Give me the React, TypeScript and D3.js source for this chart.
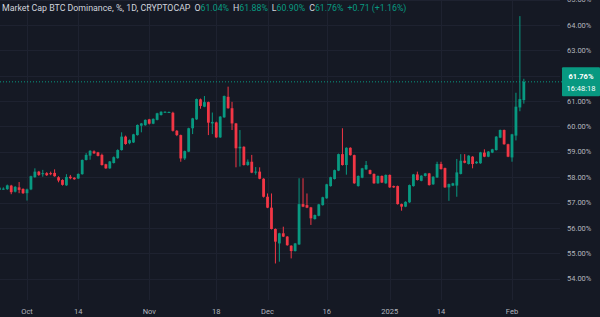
import React from "react";
import * as d3 from "d3";

// ---- data ----
const firstDay = "2024-09-24";
const opens = [
  57.50, 57.53, 57.53, 57.67, 57.43, 57.60, 57.54,
  57.37, 57.52, 58.00, 58.22, 58.12, 58.16, 58.16, 58.17, 58.00, 57.89,
  57.68, 58.02, 57.98, 57.95, 58.12, 58.68, 58.85, 59.02, 58.98, 58.88,
  58.51, 58.35, 58.56, 58.75, 59.07, 59.60, 59.34, 59.37, 59.66, 60.03,
  60.05, 60.28, 60.11, 60.26, 60.45, 60.56, 60.55, 60.54, 59.83, 59.66,
  58.74, 59.01, 59.93, 60.28, 61.07, 60.78, 60.96, 60.12, 60.16, 59.57,
  60.36, 61.17, 60.72, 60.12, 59.14, 59.20, 58.48, 58.61, 58.19, 58.22,
  57.94, 57.23, 56.80, 55.96, 55.39, 55.79, 55.66, 55.30, 55.09, 55.35,
  56.94, 56.90, 56.81, 56.35, 56.48, 56.90, 57.17, 57.65, 57.93, 58.26,
  58.91, 58.48, 59.16, 58.87, 57.65, 57.98, 58.31, 58.28, 58.13, 57.76,
  58.05, 57.76, 58.09, 57.65, 57.65, 56.94, 56.84, 57.01, 57.65, 58.11,
  57.86, 58.05, 58.15, 57.72, 57.99, 58.52, 58.36, 57.60, 57.67, 57.67,
  58.13, 58.65, 58.52, 58.81, 58.55, 58.55, 58.97, 58.81, 58.97, 59.07,
  59.56, 59.86, 59.30, 58.78, 59.64, 60.75, 61.04,
];
const highs = [
  57.62, 57.60, 57.71, 57.70, 57.65, 57.81, 57.56,
  57.55, 58.06, 58.35, 58.25, 58.29, 58.20, 58.22, 58.31, 58.04, 57.92,
  58.12, 58.09, 58.00, 58.15, 58.70, 58.95, 59.07, 59.06, 59.00, 58.93,
  58.53, 58.64, 58.82, 59.10, 59.77, 59.64, 59.49, 59.71, 60.08, 60.14,
  60.28, 60.30, 60.32, 60.54, 60.60, 60.60, 60.59, 60.58, 59.86, 59.68,
  59.05, 59.95, 60.34, 61.10, 61.10, 61.20, 60.98, 60.55, 60.19, 60.41,
  61.22, 61.57, 60.97, 60.14, 59.86, 59.22, 58.70, 58.88, 58.40, 58.39,
  57.96, 57.36, 57.36, 55.98, 55.81, 56.05, 55.68, 55.32, 55.41, 57.96,
  57.96, 57.36, 56.83, 56.53, 56.95, 57.23, 57.74, 58.02, 58.30, 58.93,
  59.93, 59.18, 59.18, 58.89, 58.07, 58.37, 58.64, 58.30, 58.15, 58.07,
  58.07, 58.11, 58.11, 57.67, 57.67, 56.96, 57.05, 57.71, 58.13, 58.22,
  58.08, 58.17, 58.17, 58.04, 58.61, 58.61, 58.38, 57.75, 57.78, 58.72,
  58.91, 58.91, 58.87, 58.83, 58.63, 59.00, 59.10, 59.03, 59.12, 59.62,
  59.88, 59.88, 59.32, 59.71, 61.33, 64.35, 61.88,
];
const lows = [
  57.46, 57.50, 57.50, 57.33, 57.40, 57.37, 57.34,
  57.08, 57.49, 57.98, 58.05, 58.02, 58.05, 58.08, 58.02, 57.80, 57.67,
  57.66, 57.92, 57.90, 57.93, 58.10, 58.66, 58.69, 58.92, 58.82, 58.46,
  58.33, 58.33, 58.54, 58.73, 59.05, 59.28, 59.30, 59.35, 59.64, 59.77,
  60.03, 60.08, 60.09, 60.24, 60.43, 60.54, 60.53, 59.80, 59.62, 58.61,
  58.68, 58.99, 59.70, 60.26, 60.70, 60.76, 59.66, 59.70, 59.55, 59.55,
  60.34, 60.70, 59.86, 58.39, 58.42, 58.46, 58.45, 58.16, 58.10, 57.92,
  57.20, 56.78, 55.94, 54.60, 54.67, 55.64, 55.30, 54.80, 55.07, 55.33,
  56.82, 56.78, 56.12, 56.33, 56.46, 56.88, 57.15, 57.63, 57.91, 58.24,
  58.46, 58.10, 58.85, 57.74, 57.63, 57.96, 58.29, 58.11, 57.74, 57.74,
  57.77, 57.74, 57.58, 57.58, 56.92, 56.68, 56.82, 56.99, 57.63, 57.87,
  57.84, 58.03, 57.67, 57.70, 57.97, 58.30, 57.58, 57.07, 57.65, 57.23,
  58.11, 58.55, 58.50, 58.35, 58.53, 58.53, 58.79, 58.79, 58.95, 59.05,
  59.54, 59.28, 58.79, 58.61, 59.45, 60.60, 60.90,
];
const closes = [
  57.59, 57.55, 57.68, 57.41, 57.62, 57.50, 57.37,
  57.52, 58.04, 58.22, 58.09, 58.16, 58.08, 58.12, 58.04, 57.87, 57.70,
  58.01, 57.96, 57.92, 58.13, 58.68, 58.88, 59.04, 58.94, 58.84, 58.48,
  58.35, 58.62, 58.79, 59.07, 59.60, 59.31, 59.46, 59.69, 60.06, 60.12,
  60.26, 60.11, 60.30, 60.52, 60.58, 60.58, 60.57, 59.83, 59.66, 58.74,
  59.03, 59.93, 60.32, 61.08, 60.81, 60.96, 60.15, 60.18, 59.57, 60.39,
  61.20, 60.72, 60.12, 59.14, 59.20, 58.48, 58.61, 58.18, 58.22, 57.94,
  57.23, 56.80, 55.96, 55.46, 55.79, 55.66, 55.32, 55.09, 55.39, 56.94,
  56.84, 56.80, 56.38, 56.51, 56.93, 57.21, 57.72, 58.00, 58.28, 58.91,
  58.48, 59.16, 58.87, 57.76, 58.05, 58.35, 58.48, 58.13, 57.76, 58.05,
  57.79, 58.09, 57.60, 57.60, 56.94, 56.84, 57.03, 57.69, 58.11, 57.89,
  58.06, 58.15, 57.69, 58.02, 58.52, 58.32, 57.60, 57.73, 57.76, 58.19,
  58.65, 58.57, 58.85, 58.52, 58.61, 58.98, 58.81, 59.01, 59.10, 59.60,
  59.86, 59.30, 58.81, 59.69, 60.78, 61.08, 61.76,
];

const yTicks = [54, 55, 56, 57, 58, 59, 60, 61, 62, 63, 64, 65];
const xTickDates = [
  "2024-10-01", "2024-10-14", "2024-11-01", "2024-11-18", "2024-12-01",
  "2024-12-16", "2025-01-01", "2025-01-14", "2025-02-01",
];
const xTickLabels = ["Oct", "14", "Nov", "18", "Dec", "16", "2025", "14", "Feb"];

const title = "Market Cap BTC Dominance, %, 1D, CRYPTOCAP";
const ohlcLabels = ["O", "H", "L", "C"];
const ohlcValues = ["61.04%", "61.88%", "60.90%", "61.76%"];
const changeText = "+0.71 (+1.16%)";
const lastPrice = 61.76;
const countdown = "16:48:18";

// ---- styling ----
const W = 600;
const H = 317;
const BG = "#151924";
const GRID = "#1e2230";
const UP = "#089981";
const DOWN = "#f23645";
const TEXT = "#b2b5be";
const FONT = "Roboto, 'Liberation Sans', sans-serif";
const plotRight = 560;
const plotBottom = 300;

export default function App() {
  const parse = d3.utcParse("%Y-%m-%d");
  const x = d3
    .scaleUtc()
    .domain([parse("2024-10-01")!, parse("2025-02-01")!])
    .range([27, 512]);
  const y = d3.scaleLinear().domain([54, 64]).range([278.7, 25]);
  const start = parse(firstDay)!;
  const candles = opens.map((o, i) => ({
    date: d3.utcDay.offset(start, i),
    o,
    h: highs[i],
    l: lows[i],
    c: closes[i],
  }));
  const bodyW = 2.8;

  return (
    <svg
      width={W}
      height={H}
      style={{ position: "fixed", left: 0, top: 0, display: "block" }}
      fontFamily={FONT}
    >
      <rect x={0} y={0} width={W} height={H} fill={BG} />
      {/* grid */}
      {yTicks.map((t) => (
        <line
          key={"gy" + t}
          x1={0}
          x2={plotRight}
          y1={Math.round(y(t)) + 0.5}
          y2={Math.round(y(t)) + 0.5}
          stroke={GRID}
          strokeWidth={1}
        />
      ))}
      {xTickDates.map((d) => {
        const xx = Math.round(x(parse(d)!)) + 0.5;
        return (
          <line key={"gx" + d} x1={xx} x2={xx} y1={0} y2={plotBottom} stroke={GRID} strokeWidth={1} />
        );
      })}
      {/* candles */}
      {candles.map((k, i) => {
        const cx = x(k.date);
        const up = k.c >= k.o;
        const col = up ? UP : DOWN;
        const top = y(Math.max(k.o, k.c));
        const bot = y(Math.min(k.o, k.c));
        return (
          <g key={i}>
            <line x1={cx} x2={cx} y1={y(k.h)} y2={y(k.l)} stroke={col} strokeWidth={1} />
            <rect x={cx - bodyW / 2} y={top} width={bodyW} height={Math.max(1, bot - top)} fill={col} />
          </g>
        );
      })}
      {/* last price line */}
      <line
        x1={0}
        x2={562}
        y1={y(lastPrice)}
        y2={y(lastPrice)}
        stroke={UP}
        strokeWidth={1}
        strokeDasharray="1,2"
      />
      {/* y labels */}
      {yTicks.map((t) => (
        <text
          key={"ly" + t}
          x={567}
          y={y(t)}
          dy="0.35em"
          fontSize={7.5}
          fill={TEXT}
        >
          {t.toFixed(2) + "%"}
        </text>
      ))}
      {/* price label */}
      <rect x={562} y={y(lastPrice) - 14.5} width={38} height={29} fill={UP} rx={1} />
      <text x={581} y={y(lastPrice) - 5.5} dy="0.35em" fontSize={7.5} fill="#ffffff" textAnchor="middle" fontWeight="bold">
        {lastPrice.toFixed(2) + "%"}
      </text>
      <text x={581} y={y(lastPrice) + 7} dy="0.35em" fontSize={7.5} fill="#ffffff" textAnchor="middle">
        {countdown}
      </text>
      {/* x labels */}
      {xTickDates.map((d, i) => (
        <text
          key={"lx" + d}
          x={x(parse(d)!)}
          y={311}
          dy="0.35em"
          fontSize={7.5}
          fill={TEXT}
          textAnchor="middle"
        >
          {xTickLabels[i]}
        </text>
      ))}
      {/* header */}
      <text x={2} y={7.5} dy="0.35em" fontSize={8.8} fill="#d1d4dc">
        <tspan>{title}</tspan>
        {ohlcLabels.map((lab, i) => (
          <React.Fragment key={lab}>
            <tspan dx={i === 0 ? 4 : 4} fill="#d1d4dc">{lab}</tspan>
            <tspan fill={UP}>{ohlcValues[i]}</tspan>
          </React.Fragment>
        ))}
        <tspan dx={4} fill={UP}>{changeText}</tspan>
      </text>
    </svg>
  );
}
